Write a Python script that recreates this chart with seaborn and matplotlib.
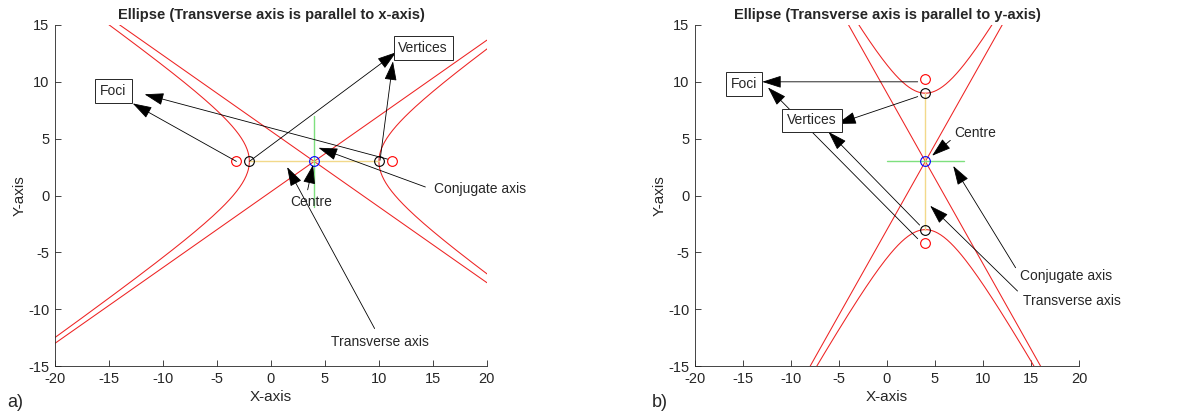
import numpy as np
import matplotlib
matplotlib.use("Agg")
import matplotlib.pyplot as plt
import seaborn as sns

# Parameters of the two hyperbolas
centre = (4, 3)
semi_a = 6
semi_b = 4
x_limits = (-20, 20)
y_limits = (-15, 15)
axis_ticks = [-20, -15, -10, -5, 0, 5, 10, 15, 20]
y_ticks = [-15, -10, -5, 0, 5, 10, 15]

titles = ["Ellipse (Transverse axis is parallel to x-axis)",
          "Ellipse (Transverse axis is parallel to y-axis)"]
panel_tags = ["a)", "b)"]

# Annotation labels, arrow tails and heads in data units
left_boxes = [("Foci", -15.8, 9.2), ("Vertices", 11.8, 13.0)]
left_arrows = [((-3.2, 3.0), (-12.8, 8.1)), ((10.8, 3.2), (-11.7, 8.9)),
               ((-2.0, 3.0), (11.6, 12.6)), ((10.1, 3.1), (11.3, 11.8)),
               ((3.4, 0.5), (3.9, 2.7)), ((14.3, 0.75), (4.4, 4.2)),
               ((9.6, -11.7), (1.5, 2.5))]
left_texts = [("Centre", 1.8, -0.6), ("Conjugate axis", 15.1, 0.6),
              ("Transverse axis", 5.6, -12.9)]

right_boxes = [("Foci", -16.3, 9.8), ("Vertices", -10.4, 6.6)]
right_arrows = [((3.2, 10.0), (-13.0, 10.0)), ((3.2, -3.8), (-12.4, 9.5)),
                ((3.2, 8.7), (-5.2, 6.3)), ((3.4, -2.6), (-6.1, 5.6)),
                ((6.6, 4.85), (4.7, 3.5)), ((13.4, -6.35), (6.9, 2.6)),
                ((13.6, -8.4), (4.5, -0.9))]
right_texts = [("Centre", 7.0, 5.5), ("Conjugate axis", 13.9, -7.1),
               ("Transverse axis", 14.2, -9.3)]

sns.set_theme(style="ticks")
plt.rcParams["font.family"] = ["Liberation Sans", "DejaVu Sans"]
plt.rcParams["xtick.direction"] = "in"
plt.rcParams["ytick.direction"] = "in"
plt.rcParams["axes.unicode_minus"] = False

grey = "#262626"
fig = plt.figure(figsize=(11.77, 4.16), dpi=100)
ax1 = fig.add_axes([0.0467, 0.120, 0.367, 0.820])
ax2 = fig.add_axes([0.5905, 0.120, 0.3262, 0.820])

h, k = centre
c = np.sqrt(semi_a ** 2 + semi_b ** 2)
t = np.linspace(-2.5, 2.5, 200)
xs = np.linspace(x_limits[0], x_limits[1], 50)


def style_axes(ax, title, tag, tag_x):
    ax.set_xlim(x_limits)
    ax.set_ylim(y_limits)
    ax.set_xticks(axis_ticks)
    ax.set_yticks(y_ticks)
    ax.tick_params(labelsize=10.5, colors=grey, length=4, width=0.6, pad=4)
    for s in ["left", "bottom"]:
        ax.spines[s].set_color(grey)
        ax.spines[s].set_linewidth(0.6)
    sns.despine(ax=ax)
    ax.set_xlabel("X-axis", fontsize=11, color=grey, labelpad=3)
    ax.set_ylabel("Y-axis", fontsize=11, color=grey, labelpad=1)
    ax.set_title(title, fontsize=10.5, fontweight="bold", pad=4)
    fig.text(tag_x, 0.032, tag, fontsize=13, ha="left", va="center")


def annotate(ax, boxes, arrows, texts):
    for tail, head in arrows:
        ax.annotate("", xy=head, xytext=tail, annotation_clip=False,
                    arrowprops=dict(arrowstyle="-|>,head_length=1.0,head_width=0.32",
                                    color="black", lw=0.6, shrinkA=0, shrinkB=0))
    for label, x, y in boxes:
        ax.text(x, y, label, fontsize=10, ha="left", va="center",
                bbox=dict(boxstyle="square,pad=0.35", fc="white", ec=grey, lw=0.7))
    for label, x, y in texts:
        ax.text(x, y, label, fontsize=10, ha="left", va="center", clip_on=False)


# a) transverse axis along x
for sgn in (-1, 1):
    sns.lineplot(x=h + sgn * semi_a * np.cosh(t), y=k + semi_b * np.sinh(t),
                 sort=False, estimator=None, color="#ee2222", lw=0.75, ax=ax1)
    sns.lineplot(x=xs, y=k + sgn * semi_b / semi_a * (xs - h),
                 sort=False, estimator=None, color="#ee2222", lw=0.75, ax=ax1)
ax1.plot([h - semi_a, h + semi_a], [k, k], color="#f2d98a", lw=1.0)
ax1.plot([h, h], [k - semi_b, k + semi_b], color="#7ee07e", lw=1.0)
ax1.plot([h - c, h + c], [k, k], "o", mfc="none", mec="red", ms=7, mew=0.8)
ax1.plot([h - semi_a, h + semi_a], [k, k], "o", mfc="none", mec="black", ms=7, mew=0.8)
ax1.plot([h], [k], "o", mfc="none", mec="blue", ms=7, mew=0.8)
style_axes(ax1, titles[0], panel_tags[0], 0.006)
annotate(ax1, left_boxes, left_arrows, left_texts)

# b) transverse axis along y
for sgn in (-1, 1):
    sns.lineplot(x=h + semi_b * np.sinh(t), y=k + sgn * semi_a * np.cosh(t),
                 sort=False, estimator=None, color="#ee2222", lw=0.75, ax=ax2)
    sns.lineplot(x=xs, y=k + sgn * semi_a / semi_b * (xs - h),
                 sort=False, estimator=None, color="#ee2222", lw=0.75, ax=ax2)
ax2.plot([h, h], [k - semi_a, k + semi_a], color="#f2d98a", lw=1.0)
ax2.plot([h - semi_b, h + semi_b], [k, k], color="#7ee07e", lw=1.0)
ax2.plot([h, h], [k - c, k + c], "o", mfc="none", mec="red", ms=7, mew=0.8)
ax2.plot([h, h], [k - semi_a, k + semi_a], "o", mfc="none", mec="black", ms=7, mew=0.8)
ax2.plot([h], [k], "o", mfc="none", mec="blue", ms=7, mew=0.8)
style_axes(ax2, titles[1], panel_tags[1], 0.554)
annotate(ax2, right_boxes, right_arrows, right_texts)

fig.savefig("out.png", dpi=100)
